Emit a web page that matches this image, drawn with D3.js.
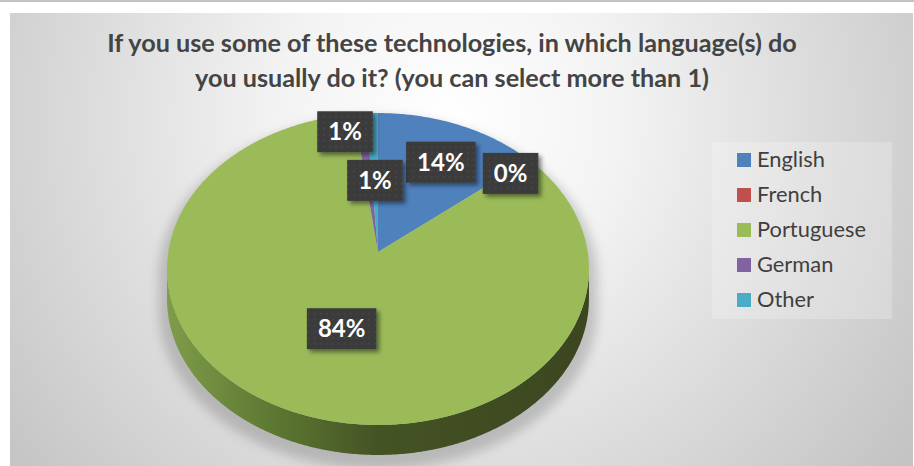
<!DOCTYPE html>
<html><head><meta charset="utf-8">
<script src="https://cdn.jsdelivr.net/npm/d3@7"></script>
<style>body{margin:0;background:#fff;overflow:hidden} svg{display:block}</style>
</head><body>
<svg id="c" width="914" height="466"></svg>
<script>
// ---- data ----
const titleLines = ["If you use some of these technologies, in which language(s) do",
                    "you usually do it? (you can select more than 1)"];
const categories = ["English", "French", "Portuguese", "German", "Other"];
const values = [14, 0, 84, 1, 1];
const colors = ["#4f81bd", "#c0504d", "#9bbb59", "#8064a2", "#4bacc6"];

// ---- layout ----
const W = 914, H = 466;
const cx = 378, cy = 252, sx = 209.7, sy = 154.1, persp = 0.109, depth = 30;
// label placement: radial fraction and angular nudge (deg) per slice
const labelLayout = [{r:0.70, da:2}, {r:0.86, da:0.7}, {r:0.50, da:-2.4}, {r:0.87, da:-6}, {r:0.49, da:0}];

const svg = d3.select("#c");
const defs = svg.append("defs");

// background gradient
const bg = defs.append("radialGradient").attr("id","bg").attr("gradientUnits","userSpaceOnUse")
  .attr("cx",450).attr("cy",120).attr("r",560);
bg.append("stop").attr("offset",0).attr("stop-color","#ffffff");
bg.append("stop").attr("offset",0.3).attr("stop-color","#f3f3f3");
bg.append("stop").attr("offset",1).attr("stop-color","#c4c4c4");

// side gradient
const sg = defs.append("linearGradient").attr("id","side").attr("gradientUnits","userSpaceOnUse")
  .attr("x1",cx-sx).attr("x2",cx+sx).attr("y1",0).attr("y2",0);
[[0,"#7e9c4a"],[0.25,"#5d7832"],[0.5,"#445324"],[1,"#3b461f"]].forEach(s=>
  sg.append("stop").attr("offset",s[0]).attr("stop-color",s[1]));

// blur filters
defs.append("filter").attr("id","blur").attr("x","-20%").attr("y","-20%").attr("width","140%").attr("height","140%")
  .append("feGaussianBlur").attr("stdDeviation",5);
const ls = defs.append("filter").attr("id","lshadow").attr("x","-30%").attr("y","-30%").attr("width","160%").attr("height","160%");
ls.append("feDropShadow").attr("dx",3).attr("dy",3).attr("stdDeviation",2).attr("flood-color","#000").attr("flood-opacity",0.45);

// dotted pattern for labels
const pat = defs.append("pattern").attr("id","dots").attr("patternUnits","userSpaceOnUse").attr("width",6).attr("height",6);
pat.append("rect").attr("width",6).attr("height",6).attr("fill","#3a3a3a");
pat.append("circle").attr("cx",3).attr("cy",3).attr("r",0.8).attr("fill","#535353");

// top line + panel
svg.append("rect").attr("x",0).attr("y",0).attr("width",W).attr("height",2).attr("fill","#c3c3c3");
svg.append("rect").attr("x",10).attr("y",13).attr("width",903).attr("height",H-13).attr("fill","url(#bg)");

// projection
function proj(angle, r) {
  const u = r * Math.sin(angle), v = -r * Math.cos(angle);
  const w = 1 - persp * v;
  return [cx + sx * u / w, cy + sy * v / w];
}
const line = d3.line();
function sampleArc(a0, a1, r, dy) {
  const n = Math.max(2, Math.ceil(Math.abs(a1 - a0) / 0.01));
  return d3.range(n + 1).map(i => { const p = proj(a0 + (a1 - a0) * i / n, r); return [p[0], p[1] + (dy||0)]; });
}

const thR = Math.acos(-persp), thL = 2 * Math.PI - thR;
const sidePts = sampleArc(thR, thL, 1, 0).concat(sampleArc(thL, thR, 1, depth));
const topPts = sampleArc(0, 2 * Math.PI, 1, 0);

// shadow
const shadowG = svg.append("g").attr("filter","url(#blur)").attr("opacity",0.28)
  .attr("transform",`translate(${cx},${cy+8}) scale(1.04,1.03) translate(${-cx},${-cy})`);
shadowG.append("path").attr("d", line(sidePts) + "Z").attr("fill","#555");
shadowG.append("path").attr("d", line(topPts) + "Z").attr("fill","#555");

// side
svg.append("path").attr("d", line(sidePts) + "Z").attr("fill","url(#side)");

// slices
const pie = d3.pie().sort(null).value(d => d)(values);
const total = d3.sum(values);
svg.append("g").selectAll("path").data(pie.filter(d => d.endAngle > d.startAngle)).join("path")
  .attr("d", d => line([[cx, cy]].concat(sampleArc(d.startAngle, d.endAngle, 1, 0))) + "Z")
  .attr("fill", d => colors[d.index]);

// labels
const fmt = d3.format(".0%");
const lg = svg.append("g");
pie.forEach((d, i) => {
  const L = labelLayout[i];
  const mid = (d.startAngle + d.endAngle) / 2 + L.da * Math.PI / 180;
  const p = proj(mid, L.r);
  const g = lg.append("g").attr("transform", `translate(${p[0]},${p[1]})`);
  const rect = g.append("rect").attr("fill","url(#dots)").attr("filter","url(#lshadow)");
  const t = g.append("text").text(fmt(d.value / total)).attr("text-anchor","middle").attr("dy","0.36em")
    .attr("font-family","Lato, 'Open Sans', sans-serif").attr("font-weight","bold").attr("font-size",24)
    .attr("fill","#ffffff");
  const tw = t.node().getComputedTextLength();
  const bw = tw + 22, bh = 41;
  rect.attr("x", -bw / 2).attr("y", -bh / 2).attr("width", bw).attr("height", bh);
});

// legend
const leg = svg.append("g");
leg.append("rect").attr("x",712).attr("y",142).attr("width",180).attr("height",177).attr("fill","#ffffff").attr("opacity",0.22);
const rows = leg.selectAll("g.row").data(categories).join("g").attr("class","row")
  .attr("transform", (d, i) => `translate(737,${153 + 35 * i})`);
rows.append("rect").attr("width",14).attr("height",14).attr("fill",(d, i) => colors[i]);
const lt = rows.append("text").attr("x",20).attr("y",14).text(d => d)
  .attr("font-family","Lato, 'Open Sans', sans-serif").attr("font-size",20).attr("fill","#3f3f3f");
// fit legend font to reference width of "Portuguese"
const pw = lt.filter(d => d === "Portuguese").node().getComputedTextLength();
lt.attr("font-size", 20 * 109 / pw);

// title
const tt = svg.append("g").selectAll("text").data(titleLines).join("text")
  .attr("x", 452).attr("y", (d, i) => 52 + 35 * i).attr("text-anchor","middle")
  .attr("font-family","Lato, 'Open Sans', sans-serif").attr("font-weight","bold").attr("font-size",24)
  .attr("fill","#444444").text(d => d);
const w1 = tt.filter((d, i) => i === 0).node().getComputedTextLength();
tt.attr("font-size", 24 * 690 / w1);
</script>
</body></html>
